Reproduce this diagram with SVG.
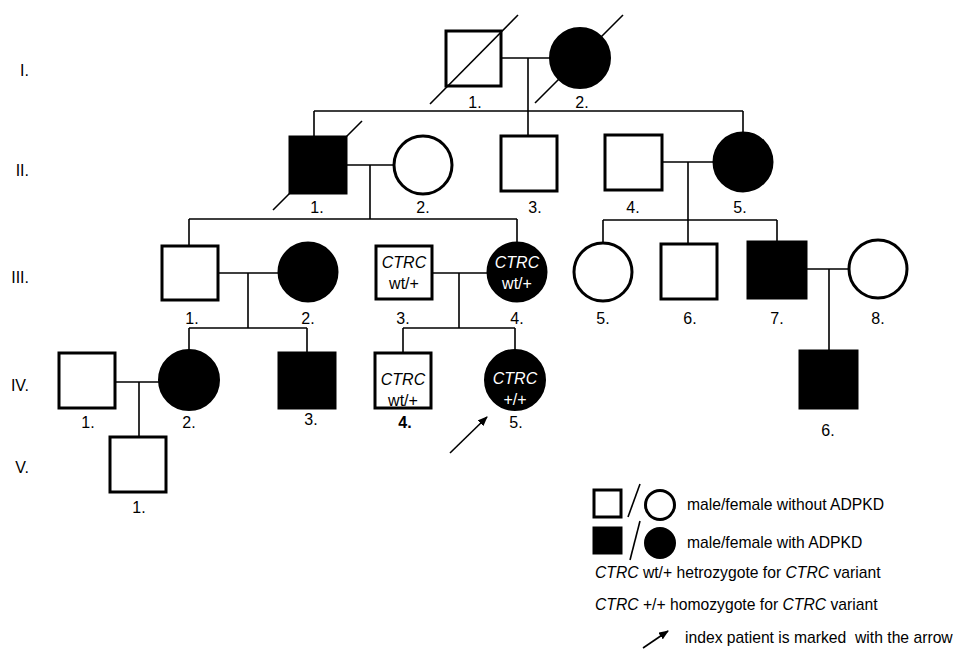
<svg xmlns="http://www.w3.org/2000/svg" width="960" height="649" viewBox="0 0 960 649">
<style>
text{font-family:"Liberation Sans",Arial,sans-serif;font-size:16px;fill:#000}
.lbl{text-anchor:middle}
.gen{text-anchor:end}
.m{fill:#fff;stroke:#000;stroke-width:3}
.a{fill:#000;stroke:#000;stroke-width:3}
.ln{stroke:#000;stroke-width:1.6;fill:none}
.in{text-anchor:middle;font-style:italic}
.w{fill:#fff}
.leg{font-size:15.7px}
</style>
<defs>
<marker id="ah" markerWidth="10" markerHeight="8" refX="9" refY="4" orient="auto" markerUnits="userSpaceOnUse">
<path d="M0,0 L10,4 L0,8 z" fill="#000"/>
</marker>
</defs>
<rect width="960" height="649" fill="#fff"/>
<g id="generations">
<text class="gen" x="29" y="76">I.</text>
<text class="gen" x="29" y="176">II.</text>
<text class="gen" x="29" y="283">III.</text>
<text class="gen" x="29" y="391">IV.</text>
<text class="gen" x="29" y="473">V.</text>
</g>
<g id="connectors">
<path class="ln" d="M501,58 H551 M528,58 V136 M314,111 H743 M314,111 V137 M743,111 V133"/>
<path class="ln" d="M346,165 H394 M370,165 V219 M189,219 H517 M189,219 V246 M517,219 V242"/>
<path class="ln" d="M662,162 H714 M688,162 V244 M603,220 H777 M603,220 V242 M777,220 V242"/>
<path class="ln" d="M218,273 H278 M248,273 V328 M189,328 H307 M189,328 V351 M307,328 V353"/>
<path class="ln" d="M432,273 H487 M459,273 V328 M403,328 H515 M403,328 V353 M515,328 V351"/>
<path class="ln" d="M806,269 H848 M829,269 V351"/>
<path class="ln" d="M115,382 H159 M139,382 V437"/>
</g>
<g id="I-1"><rect class="m" x="446" y="31" width="55" height="55"/><path class="ln" d="M430,104 L518,15"/><text class="lbl" x="475" y="108">1.</text></g>
<g id="I-2"><circle class="a" cx="580" cy="58" r="29.5"/><path class="ln" d="M535,103 L623,15"/><text class="lbl" x="582" y="108">2.</text></g>
<g id="II-1"><rect class="a" x="290" y="137" width="56" height="56"/><path class="ln" d="M273,210 L362,121"/><text class="lbl" x="317" y="213">1.</text></g>
<g id="II-2"><circle class="m" cx="423" cy="165" r="29"/><text class="lbl" x="423" y="213">2.</text></g>
<g id="II-3"><rect class="m" x="501" y="136" width="56" height="55"/><text class="lbl" x="535" y="213">3.</text></g>
<g id="II-4"><rect class="m" x="605" y="135" width="57" height="55"/><text class="lbl" x="633" y="213">4.</text></g>
<g id="II-5"><circle class="a" cx="743" cy="162" r="29"/><text class="lbl" x="740" y="213">5.</text></g>
<g id="III-1"><rect class="m" x="162" y="246" width="56" height="54"/><text class="lbl" x="192" y="324">1.</text></g>
<g id="III-2"><circle class="a" cx="308" cy="272" r="29"/><text class="lbl" x="308" y="324">2.</text></g>
<g id="III-3"><rect class="m" x="376" y="246" width="56" height="53"/><text class="in" x="404" y="268">CTRC</text><text class="lbl" x="404" y="289">wt/+</text><text class="lbl" x="403" y="324">3.</text></g>
<g id="III-4"><circle class="a" cx="517" cy="272" r="29"/><text class="in w" x="517" y="268">CTRC</text><text class="lbl w" x="517" y="289">wt/+</text><text class="lbl" x="517" y="324">4.</text></g>
<g id="III-5"><circle class="m" cx="603" cy="272" r="29"/><text class="lbl" x="603" y="324">5.</text></g>
<g id="III-6"><rect class="m" x="661" y="244" width="56" height="55"/><text class="lbl" x="690" y="324">6.</text></g>
<g id="III-7"><rect class="a" x="748" y="242" width="58" height="56"/><text class="lbl" x="777" y="324">7.</text></g>
<g id="III-8"><circle class="m" cx="878" cy="269" r="29"/><text class="lbl" x="878" y="324">8.</text></g>
<g id="IV-1"><rect class="m" x="59" y="353" width="56" height="55"/><text class="lbl" x="88" y="428">1.</text></g>
<g id="IV-2"><circle class="a" cx="189" cy="380" r="29.5"/><text class="lbl" x="189" y="428">2.</text></g>
<g id="IV-3"><rect class="a" x="279" y="353" width="56" height="55"/><text class="lbl" x="311" y="425">3.</text></g>
<g id="IV-4"><rect class="m" x="375" y="353" width="56" height="55"/><text class="in" x="403" y="385">CTRC</text><text class="lbl" x="403" y="406">wt/+</text><text class="lbl" x="405" y="428" font-weight="bold">4.</text></g>
<g id="IV-5"><circle class="a" cx="515" cy="380" r="29.5"/><text class="in w" x="515" y="384">CTRC</text><text class="lbl w" x="515" y="405">+/+</text><text class="lbl" x="516" y="428">5.</text></g>
<g id="IV-6"><rect class="a" x="800" y="351" width="57" height="57"/><text class="lbl" x="828" y="436">6.</text></g>
<g id="V-1"><rect class="m" x="110" y="437" width="56" height="55"/><text class="lbl" x="139" y="513">1.</text></g>
<g id="index-arrow"><path class="ln" d="M450,453 L487,417" marker-end="url(#ah)"/></g>
<g id="legend">
<rect class="m" x="594" y="490" width="27" height="27"/>
<path class="ln" d="M628,517 L640,484"/>
<circle class="m" cx="660" cy="505" r="14.5"/>
<text class="leg" x="687" y="510">male/female without ADPKD</text>
<rect class="a" x="594" y="528" width="27" height="25"/>
<path class="ln" d="M630,560 L640,521"/>
<circle class="a" cx="660" cy="543" r="14.5"/>
<text class="leg" x="687" y="548">male/female with ADPKD</text>
<text class="leg" x="595" y="578"><tspan font-style="italic">CTRC</tspan> wt/+ hetrozygote for <tspan font-style="italic">CTRC</tspan> variant</text>
<text class="leg" x="595" y="610"><tspan font-style="italic">CTRC</tspan> +/+ homozygote for <tspan font-style="italic">CTRC</tspan> variant</text>
<path class="ln" d="M643,648 L668,631" marker-end="url(#ah)"/>
<text class="leg" x="685" y="643" xml:space="preserve" style="white-space:pre">index patient is marked  with the arrow</text>
</g>
</svg>
